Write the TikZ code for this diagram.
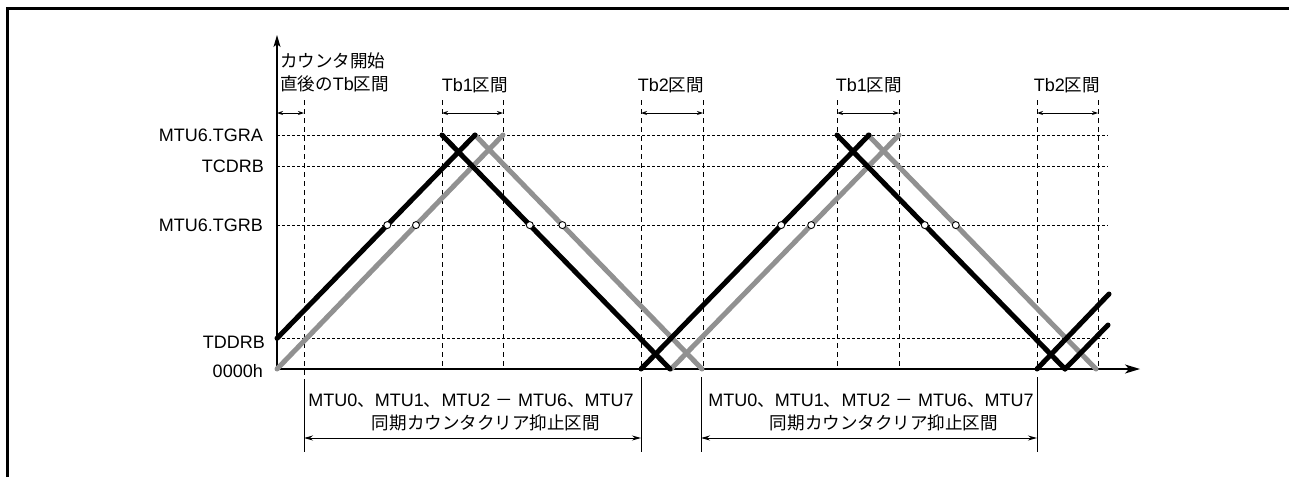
\documentclass[tikz,border=0pt]{standalone}
\usepackage{fontspec}
\setmainfont{Liberation Sans}
\newfontfamily\jp[Scale=0.975]{Noto Sans CJK JP}
\usetikzlibrary{arrows.meta,calc}
\definecolor{lgray}{RGB}{145,145,145}
\begin{document}
\begin{tikzpicture}[x=1pt,y=-1pt,
  every node/.style={inner sep=0pt, font=\fontsize{18}{21}\selectfont},
  frame/.style={line width=3.3pt},
  axisline/.style={line width=1.3pt},
  hgrid/.style={line width=0.9pt, dash pattern=on 3pt off 2pt},
  vgrid/.style={line width=1pt, dash pattern=on 5pt off 4pt},
  tbarrow/.style={line width=0.9pt, {Stealth[length=6pt,width=4pt]}-{Stealth[length=6pt,width=4pt]}},
  spanarrow/.style={line width=1pt, {Stealth[length=9pt,width=5pt]}-{Stealth[length=9pt,width=5pt]}},
  blk/.style={line width=5pt, line cap=round, black},
  gry/.style={line width=5pt, line cap=round, lgray},
  mark circle/.style={circle, draw, fill=white, line width=0.9pt, minimum size=7pt, inner sep=0pt},
  bound/.style={line width=1pt}
]
\useasboundingbox (0,0) rectangle (1289,477);
% frame
\draw[frame] (7.7,477) -- (7.7,8.5) -- (1289,8.5);

% origin and axis ends
\coordinate (O) at (277,369);
\coordinate (xend) at (1140,369);
\coordinate (yend) at (277,35);

% level grid lines
\foreach \y/\n in {135/A,166/C,225/B,338/D}{
  \coordinate (h\n s) at (277,\y);
  \coordinate (h\n e) at (1108,\y);
  \draw[hgrid] (h\n s) -- (h\n e);
}

% vertical dashed lines
\foreach \x/\n in {442/b,503/c,641/d,703/e,837/f,899/g,1037/h,1098/i}{
  \coordinate (v\n t) at (\x,100);
  \coordinate (v\n b) at (\x,369);
  \draw[vgrid] (v\n t) -- (v\n b);
}
\coordinate (vat) at (304,100);
\coordinate (vab) at (304,380);
\draw[vgrid] (vat) -- (vab);

% axes
\draw[axisline,-{Stealth[length=15pt,width=9pt,inset=4pt]}] (O) -- (xend);
\draw[axisline,-{Stealth[length=12pt,width=7pt,inset=3pt]}] (O) -- (yend);

% level labels
\node[anchor=east] (lA) at (263,135) {MTU6.TGRA};
\node[anchor=east] (lC) at (264,166) {TCDRB};
\node[anchor=east] (lB) at (263,225) {MTU6.TGRB};
\node[anchor=east] (lD) at (265,342) {TDDRB};
\node[anchor=east] (lO) at (263,371) {0000h};

% top labels
\node[anchor=west] (t0a) at (280,61) {\jp カウンタ開始};
\node[anchor=west] (t0b) at (280,84) {{\jp 直後の}Tb{\jp 区間}};
\node (t1) at (475,85) {Tb1{\jp 区間}};
\node (t2) at (671,85) {Tb2{\jp 区間}};
\node (t3) at (869,85) {Tb1{\jp 区間}};
\node (t4) at (1067,85) {Tb2{\jp 区間}};

% Tb arrows
\coordinate (a0l) at (277,113); \coordinate (a0r) at (304,113);
\draw[tbarrow] (a0l) -- (a0r);
\foreach \l/\r in {b/c,d/e,f/g,h/i}{
  \draw[tbarrow] ($(v\l t)+(0,13)$) -- ($(v\r t)+(0,13)$);
}

% gray counter lines
\coordinate (g1a) at (277,369); \coordinate (g1b) at (503,135);
\coordinate (g2a) at (475,135); \coordinate (g2b) at (702,369);
\coordinate (g3a) at (671,369); \coordinate (g3b) at (899,135);
\coordinate (g4a) at (868,135); \coordinate (g4b) at (1096,369);
\draw[gry] (g1a) -- (g1b);
\draw[gry] (g2a) -- (g2b);
\draw[gry] (g3a) -- (g3b);
\draw[gry] (g4a) -- (g4b);

% black counter lines
\coordinate (k1a) at (277,338.3); \coordinate (k1b) at (475,135);
\coordinate (k2a) at (442,135); \coordinate (k2b) at (670,369);
\coordinate (k3a) at (641,369); \coordinate (k3b) at (869,135);
\coordinate (k4a) at (837,135); \coordinate (k4b) at (1065,369);
\coordinate (k5b) at (1108,325);
\coordinate (k6a) at (1037,369); \coordinate (k6b) at (1109,294);
\draw[blk] (k1a) -- (k1b);
\draw[blk] (k2a) -- (k2b);
\draw[blk] (k3a) -- (k3b);
\draw[blk] (k4a) -- (k4b);
\draw[blk] (k4b) -- (k5b);
\draw[blk] (k6a) -- (k6b);

% compare-match circles
\node[mark circle] (c1) at ($(k1a)!0.557!(k1b)$) {};
\node[mark circle] (c2) at ($(g1a)!0.615!(g1b)$) {};
\node[mark circle] (c3) at ($(k2a)!0.385!(k2b)$) {};
\node[mark circle] (c4) at ($(g2a)!0.385!(g2b)$) {};
\node[mark circle] (c5) at ($(k3a)!0.615!(k3b)$) {};
\node[mark circle] (c6) at ($(g3a)!0.615!(g3b)$) {};
\node[mark circle] (c7) at ($(k4a)!0.385!(k4b)$) {};
\node[mark circle] (c8) at ($(g4a)!0.385!(g4b)$) {};

% bottom spans
\coordinate (s1t) at (304,380); \coordinate (s1b) at (304,452);
\coordinate (s2t) at (641,377); \coordinate (s2b) at (641,452);
\coordinate (s3t) at (701,377); \coordinate (s3b) at (701,452);
\coordinate (s4t) at (1037,377); \coordinate (s4b) at (1037,452);
\foreach \n in {1,2,3,4}{ \draw[bound] (s\n t) -- (s\n b); }
\draw[spanarrow] (304,438) -- (641,438);
\draw[spanarrow] (701,438) -- (1037,438);

\node (m1a) at (471,401) {MTU0{\jp 、}MTU1{\jp 、}MTU2 {\jp －} MTU6{\jp 、}MTU7};
\node (m1b) at (486,423) {\jp 同期カウンタクリア抑止区間};
\node (m2a) at (871,401) {MTU0{\jp 、}MTU1{\jp 、}MTU2 {\jp －} MTU6{\jp 、}MTU7};
\node (m2b) at (884,423) {\jp 同期カウンタクリア抑止区間};
\end{tikzpicture}
\end{document}
